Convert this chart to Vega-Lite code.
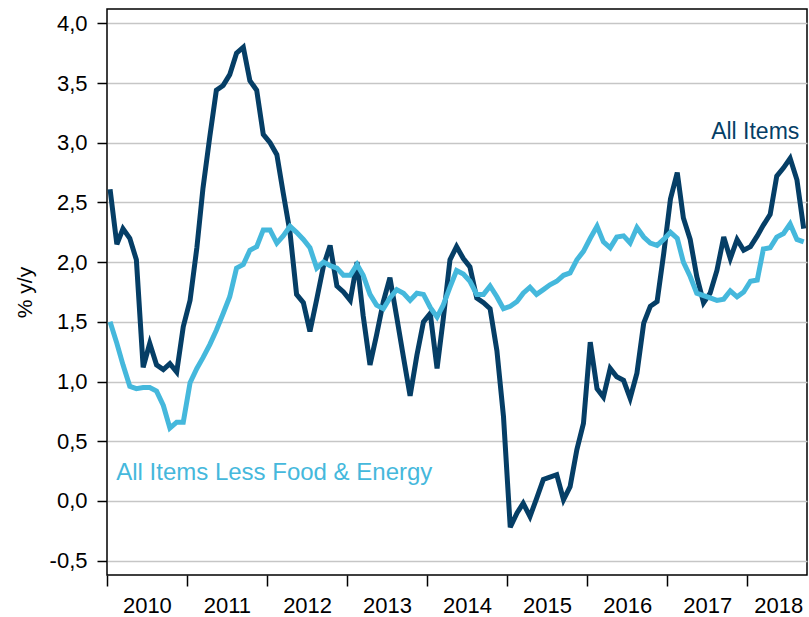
{
  "$schema": "https://vega.github.io/schema/vega-lite/v6.json",
  "width": 700,
  "height": 566,
  "autosize": {"type": "none"},
  "padding": {"left": 107, "top": 9, "right": 2, "bottom": 42},
  "background": "white",
  "config": {
    "view": {"stroke": "#000", "strokeWidth": 1.5},
    "font": "Liberation Sans",
    "axis": {
      "labelFont": "Liberation Sans",
      "titleFont": "Liberation Sans",
      "labelColor": "#000",
      "titleColor": "#000",
      "tickColor": "#000",
      "tickWidth": 1.5,
      "domain": false,
      "labelFontSize": 22,
      "titleFontSize": 21,
      "titleFontWeight": "normal"
    }
  },
  "datasets": {
    "cpi": [
      {"date": "2010-01-15", "all": 2.61, "core": 1.50},
      {"date": "2010-02-15", "all": 2.15, "core": 1.32},
      {"date": "2010-03-15", "all": 2.28, "core": 1.14},
      {"date": "2010-04-15", "all": 2.20, "core": 0.96},
      {"date": "2010-05-15", "all": 2.02, "core": 0.94},
      {"date": "2010-06-15", "all": 1.12, "core": 0.95},
      {"date": "2010-07-15", "all": 1.32, "core": 0.95},
      {"date": "2010-08-15", "all": 1.14, "core": 0.92},
      {"date": "2010-09-15", "all": 1.10, "core": 0.80},
      {"date": "2010-10-15", "all": 1.15, "core": 0.61},
      {"date": "2010-11-15", "all": 1.08, "core": 0.66},
      {"date": "2010-12-15", "all": 1.46, "core": 0.66},
      {"date": "2011-01-15", "all": 1.68, "core": 0.99},
      {"date": "2011-02-15", "all": 2.12, "core": 1.11},
      {"date": "2011-03-15", "all": 2.62, "core": 1.20},
      {"date": "2011-04-15", "all": 3.05, "core": 1.31},
      {"date": "2011-05-15", "all": 3.44, "core": 1.43},
      {"date": "2011-06-15", "all": 3.48, "core": 1.57},
      {"date": "2011-07-15", "all": 3.57, "core": 1.71},
      {"date": "2011-08-15", "all": 3.75, "core": 1.95},
      {"date": "2011-09-15", "all": 3.80, "core": 1.98},
      {"date": "2011-10-15", "all": 3.52, "core": 2.10},
      {"date": "2011-11-15", "all": 3.44, "core": 2.13},
      {"date": "2011-12-15", "all": 3.07, "core": 2.27},
      {"date": "2012-01-15", "all": 3.00, "core": 2.27},
      {"date": "2012-02-15", "all": 2.90, "core": 2.16},
      {"date": "2012-03-15", "all": 2.58, "core": 2.22},
      {"date": "2012-04-15", "all": 2.25, "core": 2.30},
      {"date": "2012-05-15", "all": 1.73, "core": 2.25},
      {"date": "2012-06-15", "all": 1.66, "core": 2.19},
      {"date": "2012-07-15", "all": 1.42, "core": 2.12},
      {"date": "2012-08-15", "all": 1.69, "core": 1.95},
      {"date": "2012-09-15", "all": 1.97, "core": 2.00},
      {"date": "2012-10-15", "all": 2.14, "core": 1.97},
      {"date": "2012-11-15", "all": 1.80, "core": 1.95},
      {"date": "2012-12-15", "all": 1.75, "core": 1.89},
      {"date": "2013-01-15", "all": 1.68, "core": 1.89},
      {"date": "2013-02-15", "all": 2.00, "core": 1.98},
      {"date": "2013-03-15", "all": 1.55, "core": 1.89},
      {"date": "2013-04-15", "all": 1.14, "core": 1.73},
      {"date": "2013-05-15", "all": 1.39, "core": 1.64},
      {"date": "2013-06-15", "all": 1.67, "core": 1.61},
      {"date": "2013-07-15", "all": 1.87, "core": 1.70},
      {"date": "2013-08-15", "all": 1.54, "core": 1.77},
      {"date": "2013-09-15", "all": 1.20, "core": 1.74},
      {"date": "2013-10-15", "all": 0.88, "core": 1.68},
      {"date": "2013-11-15", "all": 1.22, "core": 1.74},
      {"date": "2013-12-15", "all": 1.50, "core": 1.73},
      {"date": "2014-01-15", "all": 1.57, "core": 1.62},
      {"date": "2014-02-15", "all": 1.11, "core": 1.54},
      {"date": "2014-03-15", "all": 1.52, "core": 1.64},
      {"date": "2014-04-15", "all": 2.02, "core": 1.79},
      {"date": "2014-05-15", "all": 2.13, "core": 1.93},
      {"date": "2014-06-15", "all": 2.03, "core": 1.90},
      {"date": "2014-07-15", "all": 1.96, "core": 1.84},
      {"date": "2014-08-15", "all": 1.70, "core": 1.73},
      {"date": "2014-09-15", "all": 1.66, "core": 1.73},
      {"date": "2014-10-15", "all": 1.61, "core": 1.80},
      {"date": "2014-11-15", "all": 1.26, "core": 1.71},
      {"date": "2014-12-15", "all": 0.71, "core": 1.61},
      {"date": "2015-01-15", "all": -0.22, "core": 1.63},
      {"date": "2015-02-15", "all": -0.10, "core": 1.67},
      {"date": "2015-03-15", "all": -0.02, "core": 1.74},
      {"date": "2015-04-15", "all": -0.13, "core": 1.79},
      {"date": "2015-05-15", "all": 0.02, "core": 1.73},
      {"date": "2015-06-15", "all": 0.18, "core": 1.77},
      {"date": "2015-07-15", "all": 0.20, "core": 1.81},
      {"date": "2015-08-15", "all": 0.22, "core": 1.84},
      {"date": "2015-09-15", "all": 0.01, "core": 1.89},
      {"date": "2015-10-15", "all": 0.12, "core": 1.91},
      {"date": "2015-11-15", "all": 0.43, "core": 2.02},
      {"date": "2015-12-15", "all": 0.65, "core": 2.09},
      {"date": "2016-01-15", "all": 1.33, "core": 2.20},
      {"date": "2016-02-15", "all": 0.94, "core": 2.30},
      {"date": "2016-03-15", "all": 0.87, "core": 2.17},
      {"date": "2016-04-15", "all": 1.11, "core": 2.12},
      {"date": "2016-05-15", "all": 1.04, "core": 2.21},
      {"date": "2016-06-15", "all": 1.01, "core": 2.22},
      {"date": "2016-07-15", "all": 0.86, "core": 2.16},
      {"date": "2016-08-15", "all": 1.07, "core": 2.29},
      {"date": "2016-09-15", "all": 1.49, "core": 2.21},
      {"date": "2016-10-15", "all": 1.63, "core": 2.16},
      {"date": "2016-11-15", "all": 1.67, "core": 2.14},
      {"date": "2016-12-15", "all": 2.07, "core": 2.19},
      {"date": "2017-01-15", "all": 2.53, "core": 2.25},
      {"date": "2017-02-15", "all": 2.75, "core": 2.20},
      {"date": "2017-03-15", "all": 2.37, "core": 2.00},
      {"date": "2017-04-15", "all": 2.19, "core": 1.88},
      {"date": "2017-05-15", "all": 1.88, "core": 1.74},
      {"date": "2017-06-15", "all": 1.66, "core": 1.72},
      {"date": "2017-07-15", "all": 1.74, "core": 1.70},
      {"date": "2017-08-15", "all": 1.93, "core": 1.68},
      {"date": "2017-09-15", "all": 2.21, "core": 1.69},
      {"date": "2017-10-15", "all": 2.03, "core": 1.76},
      {"date": "2017-11-15", "all": 2.19, "core": 1.71},
      {"date": "2017-12-15", "all": 2.10, "core": 1.75},
      {"date": "2018-01-15", "all": 2.13, "core": 1.84},
      {"date": "2018-02-15", "all": 2.22, "core": 1.85},
      {"date": "2018-03-15", "all": 2.31, "core": 2.11},
      {"date": "2018-04-15", "all": 2.40, "core": 2.12},
      {"date": "2018-05-15", "all": 2.72, "core": 2.21},
      {"date": "2018-06-15", "all": 2.79, "core": 2.24},
      {"date": "2018-07-15", "all": 2.87, "core": 2.32},
      {"date": "2018-08-15", "all": 2.69, "core": 2.19},
      {"date": "2018-09-15", "all": 2.28, "core": 2.17}
    ],
    "labels": [
      {"date": "2018-08-26", "v": 3.03, "label": "All Items", "series": "all"},
      {"date": "2010-02-12", "v": 0.176, "label": "All Items Less Food & Energy", "series": "core"}
    ]
  },
  "layer": [
    {
      "data": {"name": "cpi"},
      "mark": {"type": "line", "color": "#053e66", "strokeWidth": 5, "strokeJoin": "miter"},
      "encoding": {
        "x": {
          "field": "date", "type": "temporal",
          "scale": {"type": "utc", "domain": [{"year": 2010, "month": 1, "date": 1, "utc": true}, {"year": 2018, "month": 9, "date": 30, "utc": true}]},
          "axis": {
            "orient": "bottom", "title": null, "labels": false, "grid": false,
            "tickSize": 11,
            "values": [
              {"year": 2010, "month": 1, "date": 1, "utc": true},
              {"year": 2011, "month": 1, "date": 1, "utc": true},
              {"year": 2012, "month": 1, "date": 1, "utc": true},
              {"year": 2013, "month": 1, "date": 1, "utc": true},
              {"year": 2014, "month": 1, "date": 1, "utc": true},
              {"year": 2015, "month": 1, "date": 1, "utc": true},
              {"year": 2016, "month": 1, "date": 1, "utc": true},
              {"year": 2017, "month": 1, "date": 1, "utc": true},
              {"year": 2018, "month": 1, "date": 1, "utc": true}
            ]
          }
        },
        "y": {
          "field": "all", "type": "quantitative",
          "scale": {"domain": [-0.62, 4.12], "nice": false, "zero": false},
          "axis": {
            "title": "% y/y",
            "values": [-0.5, 0, 0.5, 1, 1.5, 2, 2.5, 3, 3.5, 4],
            "labelExpr": "replace(replace(format(datum.value, '.1f'), '.', ','), '\u2212', '-')",
            "tickSize": 10, "labelPadding": 10, "titlePadding": 14,
            "grid": true, "gridColor": "#c6c6c6", "gridWidth": 1.6
          }
        }
      }
    },
    {
      "data": {"name": "cpi"},
      "mark": {"type": "line", "color": "#45b8dc", "strokeWidth": 5, "strokeJoin": "miter"},
      "encoding": {
        "x": {
          "field": "date", "type": "temporal",
          "axis": {
            "orient": "bottom", "title": null, "ticks": false, "grid": false,
            "labelPadding": 20,
            "labelExpr": "utcFormat(datum.value, '%Y')",
            "values": [
              {"year": 2010, "month": 7, "date": 2, "utc": true},
              {"year": 2011, "month": 7, "date": 2, "utc": true},
              {"year": 2012, "month": 7, "date": 2, "utc": true},
              {"year": 2013, "month": 7, "date": 2, "utc": true},
              {"year": 2014, "month": 7, "date": 2, "utc": true},
              {"year": 2015, "month": 7, "date": 2, "utc": true},
              {"year": 2016, "month": 7, "date": 2, "utc": true},
              {"year": 2017, "month": 7, "date": 2, "utc": true},
              {"year": 2018, "month": 5, "date": 22, "utc": true}
            ]
          }
        },
        "y": {"field": "core", "type": "quantitative"}
      }
    },
    {
      "data": {"name": "labels"},
      "transform": [{"filter": "datum.series === 'all'"}],
      "mark": {"type": "text", "align": "right", "baseline": "alphabetic", "fontSize": 23, "color": "#053e66", "font": "Liberation Sans"},
      "encoding": {
        "x": {"field": "date", "type": "temporal", "axis": null},
        "y": {"field": "v", "type": "quantitative"},
        "text": {"field": "label"}
      }
    },
    {
      "data": {"name": "labels"},
      "transform": [{"filter": "datum.series === 'core'"}],
      "mark": {"type": "text", "align": "left", "baseline": "alphabetic", "fontSize": 24, "color": "#45b8dc", "font": "Liberation Sans"},
      "encoding": {
        "x": {"field": "date", "type": "temporal", "axis": null},
        "y": {"field": "v", "type": "quantitative"},
        "text": {"field": "label"}
      }
    }
  ],
  "resolve": {"axis": {"x": "independent"}}
}
